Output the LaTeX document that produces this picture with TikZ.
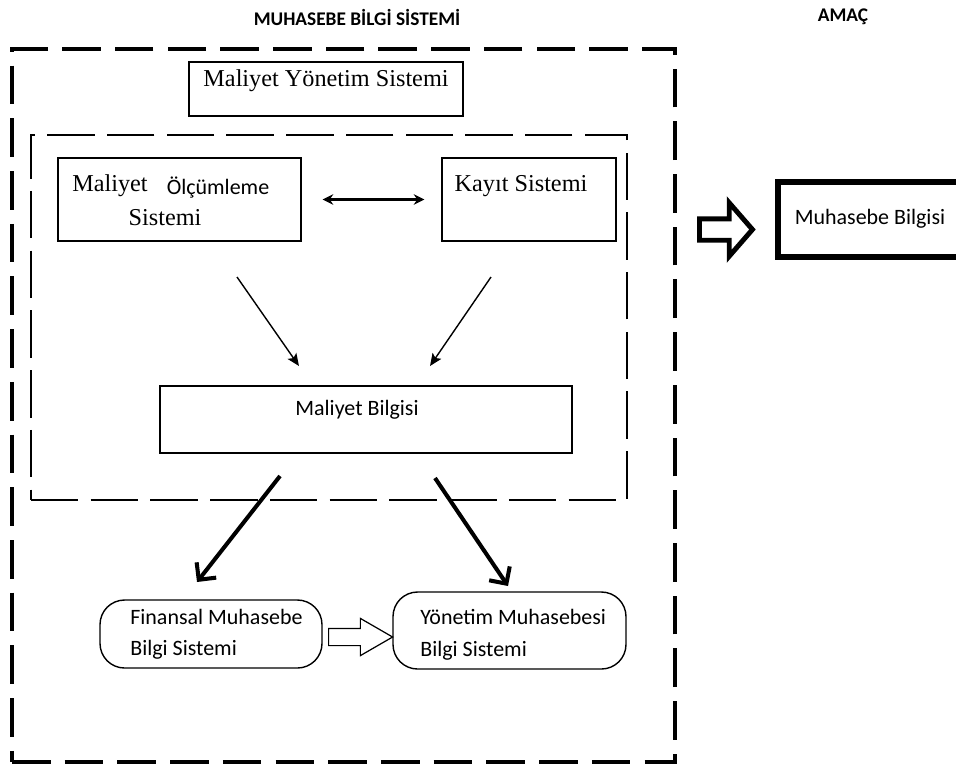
\documentclass[tikz,border=0pt]{standalone}
\usepackage{fontspec}
\setmainfont{Liberation Serif}
\newfontfamily\calibri{Carlito}
\usetikzlibrary{arrows.meta,fit,shapes.arrows}

\tikzset{
	kutu/.style={draw,line width=0.8pt,inner sep=0pt},
	yuvarlak/.style={kutu,rounded corners=14pt},
	serif/.style={font=\fontsize{13.8}{16}\selectfont},
	sans/.style={font=\calibri\fontsize{12.5}{17.5}\selectfont},
	baslik/.style={font=\calibri\bfseries\fontsize{11}{13}\selectfont},
	ince/.style={line width=0.8pt,-{Stealth[length=7pt,width=6pt,inset=1.5pt]}},
	kalin/.style={line width=2.3pt,-{Straight Barb[angle=90:10pt]}},
	blok/.style={single arrow,draw,anchor=tail},
}

\begin{document}
\begin{tikzpicture}[x=0.02cm,y=-0.02cm]
	\useasboundingbox (0,0) rectangle (956,769);
	\node[baslik] (baslik) at (357,17) {MUHASEBE BİLGİ SİSTEMİ};
	\node[baslik] (amac) at (843,17) {AMAÇ};

	\node[fit={(12,49) (675,762)},inner sep=0pt,draw,line width=2.8pt,dash pattern=on 22pt off 8pt] (mbs) {};
	\node[fit={(31,135) (627,500)},inner sep=0pt,draw,line width=0.9pt,dash pattern=on 27pt off 7pt] (ic) {};

	\node[kutu,serif,fit={(189,62) (463,116)}] (mys) {Maliyet Yönetim Sistemi};
	\node[kutu,fit={(58,158) (301,241)}] (mos) {};
	\node[serif] (mos1) at (110,186) {Maliyet};
	\node[sans] (mos2) at (218,188) {Ölçümleme};
	\node[serif] (mos3) at (165,218) {Sistemi};
	\node[kutu,fit={(442,158) (616,241)}] (kayit) {};
	\node[serif] (kayit1) at (521,186) {Kayıt Sistemi};
	\draw[line width=1.3pt,{Stealth[length=6pt,width=6pt]}-{Stealth[length=6pt,width=6pt]},shorten <=0.42cm,shorten >=0.34cm] (mos) -- (kayit);

	\coordinate (o1) at (237,277);
	\coordinate (o2) at (299,366);
	\coordinate (k1) at (491,277);
	\coordinate (k2) at (430,366);
	\draw[ince] (o1) -- (o2);
	\draw[ince] (k1) -- (k2);

	\node[kutu,fit={(160,386) (572,453)}] (mb) {};
	\node[sans] (mb1) at (357,410) {Maliyet Bilgisi};

	\coordinate (f1) at (280,476);
	\coordinate (f2) at (197,582);
	\coordinate (y1) at (435,478);
	\coordinate (y2) at (508,586);
	\draw[kalin] (f1) -- (f2);
	\draw[kalin] (y1) -- (y2);

	\node[yuvarlak,fit={(100,600) (322,668)}] (fin) {};
	\node[sans,anchor=west,align=left,inner sep=0pt] (fin1) at (130,634) {Finansal Muhasebe\\Bilgi Sistemi};
	\node[yuvarlak,fit={(393,592) (626,669)}] (yon) {};
	\node[sans,anchor=west,align=left,inner sep=0pt,font=\calibri\fontsize{12.5}{18.2}\selectfont] (yon1) at (420,635) {Yönetim Muhasebesi\\Bilgi Sistemi};
	\node[blok,line width=0.7pt,inner sep=0.16cm,minimum height=1.28cm,single arrow head extend=0.2cm,single arrow tip angle=60] (fy) at (328,637) {};

	\node[blok,line width=2.8pt,inner sep=0.165cm,minimum height=1.06cm,single arrow head extend=0.32cm,single arrow tip angle=98] (cikis) at (697,229.5) {};
	\node[draw,line width=3.4pt,inner sep=0pt,sans,fit={(778,182) (965,257)}] (muh) {};
	\node[sans] (muh1) at (870,219) {Muhasebe Bilgisi};
\end{tikzpicture}
\end{document}
